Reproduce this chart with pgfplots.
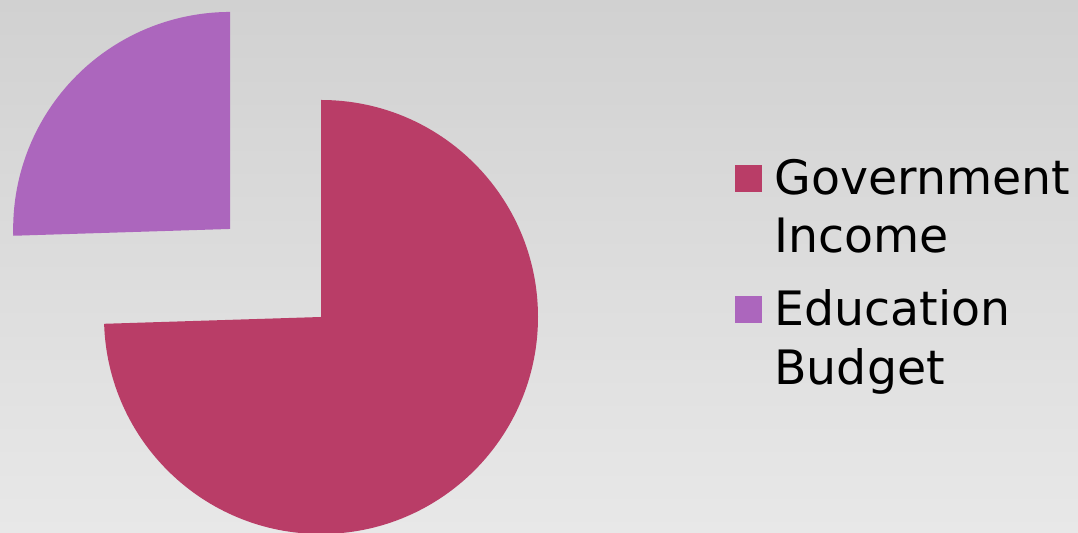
\documentclass[border=0pt]{standalone}
\usepackage{pgfplots}
\pgfplotsset{compat=1.18}
\usepackage{pgfplotstable}
\usepackage{fontspec}
\setmainfont{DejaVu Sans}

\definecolor{govred}{RGB}{185,61,103}
\definecolor{edupurple}{RGB}{172,102,189}

% shares of the pie, percent
\pgfplotstableread{
label value
Government 74.5
Education 25.5
}\piedata

\begin{document}
\begin{tikzpicture}
\pgfplotstablegetelem{0}{value}\of\piedata \let\gov\pgfplotsretval
\pgfplotstablegetelem{1}{value}\of\piedata \let\edu\pgfplotsretval
% pie starts at 12 o'clock and runs clockwise
\pgfmathsetmacro\gend{90-3.6*\gov}
\pgfmathsetmacro\eend{\gend-3.6*\edu}
\pgfmathsetmacro\emid{(\gend+\eend)/2}
\def\R{108.5pt}
  \begin{axis}[
    scale only axis,
    width=539pt, height=266.5pt,
    xmin=0, xmax=1078, ymin=0, ymax=533,
    hide axis,
    clip=true,
  ]
    \shade[top color={rgb,255:red,209;green,209;blue,209},
           bottom color={rgb,255:red,232;green,232;blue,232}]
      (axis cs:0,0) rectangle (axis cs:1078,533);

    % Government Income
    \fill[govred] (axis cs:321,216) -- ++(90:\R)
      arc[start angle=90, end angle=\gend, radius=\R] -- cycle;
    % Education Budget, pulled out of the pie
    \fill[edupurple] (axis cs:321,216) ++(\emid:63.25pt) -- ++(\gend:\R)
      arc[start angle=\gend, end angle=\eend, radius=\R] -- cycle;

    % legend
    \fill[govred] (axis cs:735,341) rectangle (axis cs:762,368);
    \fill[edupurple] (axis cs:735,210) rectangle (axis cs:762,237);
    \begin{scope}[every node/.style={anchor=base west, inner sep=0pt,
        font=\fontsize{23.7}{29}\selectfont}]
      \node at (axis cs:774,338) {Government};
      \node at (axis cs:774,280) {Income};
      \node at (axis cs:774,207) {Education};
      \node at (axis cs:774,148) {Budget};
    \end{scope}
  \end{axis}
\pgfresetboundingbox
\useasboundingbox (0,0) rectangle (539pt,266.5pt);
\end{tikzpicture}
\end{document}
